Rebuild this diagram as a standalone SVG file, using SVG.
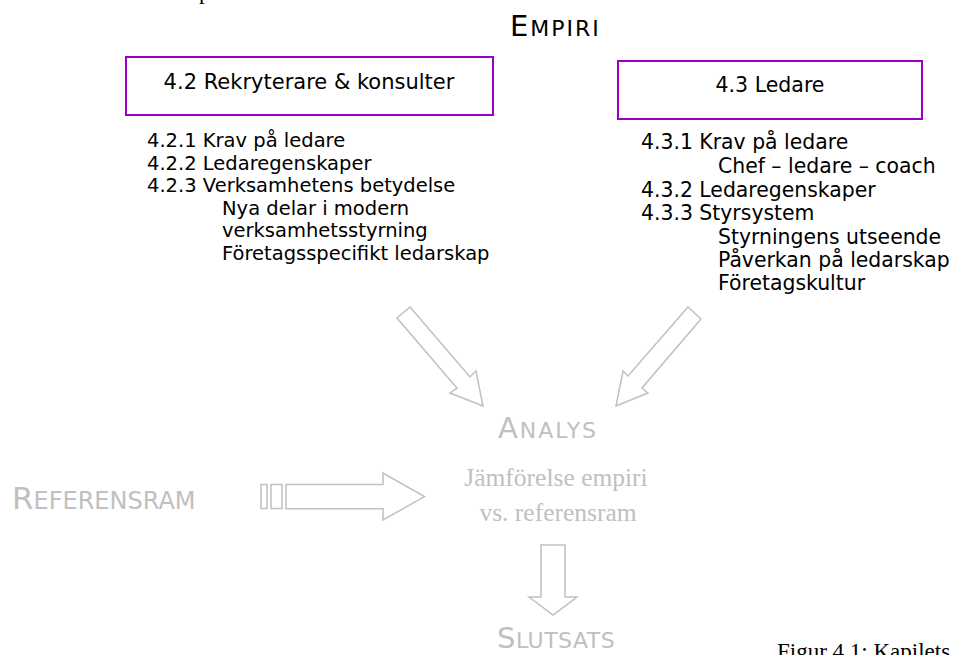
<svg xmlns="http://www.w3.org/2000/svg" width="957" height="655" viewBox="0 0 957 655">
<style>
.box{fill:#fff;stroke:#9900cc;stroke-width:2}
.v{font-family:"DejaVu Sans","Liberation Sans",sans-serif;fill:#000}
.g{font-family:"DejaVu Sans","Liberation Sans",sans-serif;fill:#c0c0c0}
.t{font-family:"Liberation Serif","Times New Roman",serif}
.arr{fill:#fff;stroke:#c0c0c0;stroke-width:1.5;stroke-linejoin:miter}
</style>
<rect width="957" height="655" fill="#fff"/>
<text class="t" x="199" y="-1" font-size="23" fill="#000">p</text>
<g id="empiri"><text class="v" x="510" y="36" font-size="29" letter-spacing="2">E<tspan font-size="22">MPIRI</tspan></text></g>
<g id="box42">
<rect class="box" x="126" y="57" width="367" height="58"/>
<text class="v" x="309" y="89" font-size="21" text-anchor="middle">4.2 Rekryterare &amp; konsulter</text>
</g>
<g id="box43">
<rect class="box" x="618" y="61" width="304" height="58"/>
<text class="v" x="770" y="92" font-size="20.5" text-anchor="middle">4.3 Ledare</text>
</g>
<g id="list42" class="v" font-size="19.5">
<text class="v" x="147" y="147">4.2.1 Krav på ledare</text>
<text class="v" x="147" y="170">4.2.2 Ledaregenskaper</text>
<text class="v" x="147" y="192">4.2.3 Verksamhetens betydelse</text>
<text class="v" x="222" y="215">Nya delar i modern</text>
<text class="v" x="222" y="237">verksamhetsstyrning</text>
<text class="v" x="222" y="260">Företagsspecifikt ledarskap</text>
</g>
<g id="list43" class="v" font-size="20.4">
<text class="v" x="641" y="149">4.3.1 Krav på ledare</text>
<text class="v" x="718" y="173">Chef – ledare – coach</text>
<text class="v" x="641" y="197">4.3.2 Ledaregenskaper</text>
<text class="v" x="641" y="220">4.3.3 Styrsystem</text>
<text class="v" x="718" y="244">Styrningens utseende</text>
<text class="v" x="718" y="267">Påverkan på ledarskap</text>
<text class="v" x="718" y="290">Företagskultur</text>
</g>
<g id="analys"><text class="g" x="498" y="438" font-size="29" letter-spacing="2">A<tspan font-size="22">NALYS</tspan></text></g>
<g id="referensram"><text class="g" x="12" y="509" font-size="31" letter-spacing="0">R<tspan font-size="24">EFERENSRAM</tspan></text></g>
<g id="jamforelse">
<text class="t" x="556" y="486" font-size="25.5" fill="#c0c0c0" text-anchor="middle">Jämförelse empiri</text>
<text class="t" x="558" y="521" font-size="25.5" fill="#c0c0c0" text-anchor="middle">vs. referensram</text>
</g>
<g id="slutsats"><text class="g" x="497" y="648" font-size="29" letter-spacing="0.5">S<tspan font-size="22">LUTSATS</tspan></text></g>
<g id="caption"><text class="t" x="777" y="659" font-size="23" fill="#000">Figur 4.1: Kapilets</text></g>
<g id="connectors">
<polygon class="arr" points="410,307 470,377 476,371 483,406 450,393 457,388 397,318"/>
<polygon class="arr" points="688,307 628,376 623,371 616,406 648,393 642,388 701,319"/>
<rect class="arr" x="261" y="484.5" width="6" height="24"/>
<rect class="arr" x="271" y="484.5" width="11" height="24"/>
<polygon class="arr" points="286,484.5 383,484.5 383,473 424.5,496.6 383,520 383,508.7 286,508.7"/>
<polygon class="arr" points="541,545 565,545 565,597 577,597 553,615 529,597 541,597"/>
</g>
</svg>
